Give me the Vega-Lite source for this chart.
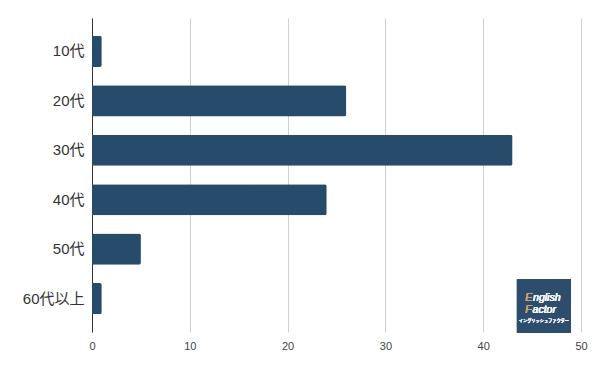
{
  "$schema": "https://vega.github.io/schema/vega-lite/v6.json",
  "autosize": "none",
  "width": 489,
  "height": 314,
  "padding": {"left": 92, "top": 18, "right": 19, "bottom": 39},
  "config": {
    "view": {"stroke": null},
    "font": "Liberation Sans, Arial, Noto Sans CJK JP, sans-serif"
  },
  "data": {
    "values": [
      {"age": "10代", "count": 1},
      {"age": "20代", "count": 26},
      {"age": "30代", "count": 43},
      {"age": "40代", "count": 24},
      {"age": "50代", "count": 5},
      {"age": "60代以上", "count": 1}
    ]
  },
  "encoding": {
    "y": {
      "field": "age",
      "type": "nominal",
      "sort": null,
      "title": null,
      "scale": {"paddingInner": 0.37, "paddingOuter": 0.36},
      "axis": {
        "domain": true,
        "domainColor": "#333333",
        "domainWidth": 1,
        "ticks": false,
        "grid": false,
        "labelFontSize": 15,
        "labelColor": "#333333",
        "labelPadding": 8,
        "labelFont": "Liberation Sans, Noto Sans CJK JP, sans-serif"
      }
    }
  },
  "layer": [
    {
      "mark": {"type": "bar", "color": "#274b6a", "cornerRadiusEnd": 2},
      "encoding": {
        "x": {
          "field": "count",
          "type": "quantitative",
          "title": null,
          "scale": {"domain": [0, 50], "nice": false},
          "axis": {
            "values": [0, 10, 20, 30, 40, 50],
            "domain": false,
            "ticks": false,
            "grid": true,
            "gridColor": "#d0d0d0",
            "labelFlush": false,
            "labelFontSize": 11,
            "labelColor": "#444444",
            "labelPadding": 8
          }
        }
      }
    },
    {
      "mark": {"type": "bar", "color": "#2c4d6b", "size": 53, "yOffset": 7.5},
      "encoding": {
        "x": {"datum": 43.45, "type": "quantitative"},
        "x2": {"datum": 48.97},
        "y": {"datum": "60代以上"}
      }
    },
    {
      "mark": {"type": "text", "align": "left", "baseline": "middle", "fontStyle": "italic", "fontSize": 10.5, "color": "#c9a27c", "font": "Liberation Sans", "yOffset": -0.5},
      "encoding": {
        "x": {"datum": 44.3, "type": "quantitative"},
        "y": {"datum": "60代以上"},
        "text": {"value": "E"}
      }
    },
    {
      "mark": {"type": "text", "align": "left", "baseline": "middle", "fontStyle": "italic", "fontSize": 10.5, "color": "#f2f2f2", "font": "Liberation Sans", "yOffset": -0.5},
      "encoding": {
        "x": {"datum": 45.1, "type": "quantitative"},
        "y": {"datum": "60代以上"},
        "text": {"value": "nglish"}
      }
    },
    {
      "mark": {"type": "text", "align": "left", "baseline": "middle", "fontStyle": "italic", "fontSize": 10.5, "color": "#c9a27c", "font": "Liberation Sans", "yOffset": 11.5},
      "encoding": {
        "x": {"datum": 44.3, "type": "quantitative"},
        "y": {"datum": "60代以上"},
        "text": {"value": "F"}
      }
    },
    {
      "mark": {"type": "text", "align": "left", "baseline": "middle", "fontStyle": "italic", "fontSize": 10.5, "color": "#f2f2f2", "font": "Liberation Sans", "yOffset": 11.5},
      "encoding": {
        "x": {"datum": 45.05, "type": "quantitative"},
        "y": {"datum": "60代以上"},
        "text": {"value": "actor"}
      }
    },
    {
      "mark": {"type": "text", "align": "center", "baseline": "middle", "fontSize": 4.2, "color": "#f2f2f2", "font": "Noto Sans CJK JP", "yOffset": 22.5},
      "encoding": {
        "x": {"datum": 46.2, "type": "quantitative"},
        "y": {"datum": "60代以上"},
        "text": {"value": "イングリッシュファクター"}
      }
    }
  ]
}
